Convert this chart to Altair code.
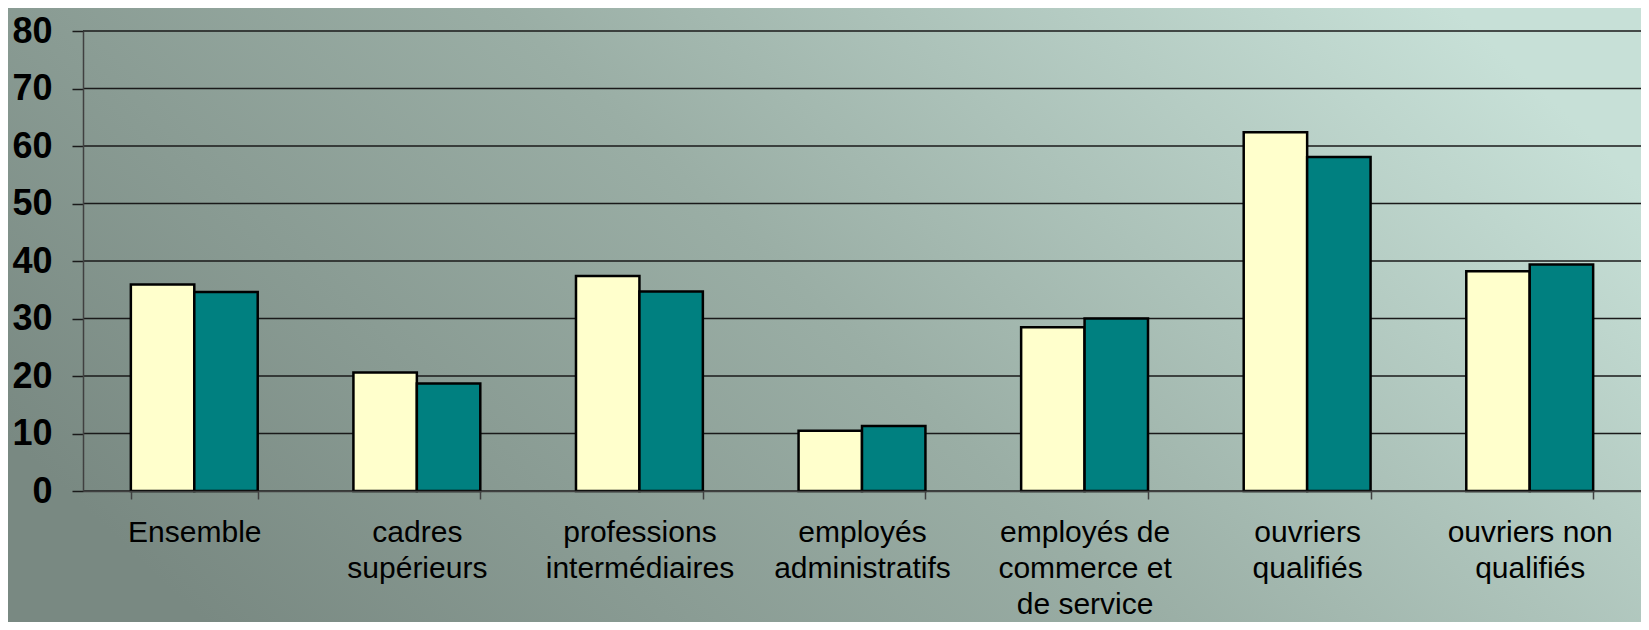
import altair as alt
import pandas as pd

categories = [
    "Ensemble",
    "cadres\nsupérieurs",
    "professions\nintermédiaires",
    "employés\nadministratifs",
    "employés de\ncommerce et\nde service",
    "ouvriers\nqualifiés",
    "ouvriers non\nqualifiés",
]
series_names = ["série 1", "série 2"]
series1 = [35.9, 20.6, 37.4, 10.5, 28.5, 62.4, 38.2]
series2 = [34.6, 18.7, 34.7, 11.3, 30.0, 58.1, 39.4]
y_ticks = [0, 10, 20, 30, 40, 50, 60, 70, 80]
colors = ["#FFFFCC", "#008080"]

rows = []
for c, a, b in zip(categories, series1, series2):
    rows.append({"cat": c, "serie": series_names[0], "value": a})
    rows.append({"cat": c, "serie": series_names[1], "value": b})
df = pd.DataFrame(rows)
grid_df = pd.DataFrame({"v": y_ticks})

W, H = 1558, 460
PL, PT, PB = 75, 23, 131
FONT = "Liberation Sans"

yscale = alt.Scale(domain=[0, 80], nice=False, zero=True)
y_axis = alt.Axis(
    title=None,
    values=y_ticks,
    labelFont=FONT,
    labelFontSize=36,
    labelFontWeight="bold",
    labelColor="#000000",
    labelPadding=20,
    tickSize=11,
    tickColor="#1a1a1a",
    tickWidth=1.5,
    domainColor="#404040",
    domainWidth=1.5,
    grid=False,
    zindex=1,
)

bg = alt.Chart(pd.DataFrame({"a": [0]})).mark_rect(
    fill=alt.Gradient(
        gradient="linear",
        x1=0, y1=0.7, x2=1, y2=0.3,
        stops=[
            alt.GradientStop(color="#798982", offset=0),
            alt.GradientStop(color="#9aaea5", offset=0.5),
            alt.GradientStop(color="#c7e0d7", offset=1),
        ],
    ),
    strokeWidth=0,
).encode(
    x=alt.value(-PL), x2=alt.value(W + 10),
    y=alt.value(-PT), y2=alt.value(H + PB),
)

grid = alt.Chart(grid_df).mark_rule(color="#1a1a1a", strokeWidth=1.5).encode(
    y=alt.Y("v:Q", scale=yscale, axis=y_axis),
)

bars = alt.Chart(df).mark_bar(stroke="#000000", strokeWidth=2.5).encode(
    x=alt.X(
        "cat:N",
        sort=categories,
        scale=alt.Scale(paddingInner=0.43, paddingOuter=0.215),
        axis=alt.Axis(
            title=None,
            labelExpr="split(datum.label, '\\n')",
            labelAngle=0,
            labelFont=FONT,
            labelFontSize=30,
            labelColor="#000000",
            labelLineHeight=36,
            labelPadding=18,
            labelBaseline="top",
            labelLimit=400,
            tickBand="extent",
            tickSize=8,
            tickColor="#404040",
            tickWidth=1.5,
            domainColor="#404040",
            domainWidth=1.5,
            grid=False,
            zindex=1,
        ),
    ),
    xOffset=alt.XOffset("serie:N", sort=series_names, scale=alt.Scale(paddingInner=0, paddingOuter=0)),
    y=alt.Y("value:Q", scale=yscale, axis=y_axis),
    fill=alt.Fill("serie:N", sort=series_names, scale=alt.Scale(domain=series_names, range=colors), legend=None),
)

chart = alt.layer(bg, grid, bars).properties(
    width=W,
    height=H,
    autosize=alt.AutoSizeParams(type="none"),
    padding={"left": PL, "top": PT, "right": 0, "bottom": PB},
    background="#9aaea5",
).configure_view(stroke=None)

chart.save("out.html", embed_options={"renderer": "svg", "actions": False})
